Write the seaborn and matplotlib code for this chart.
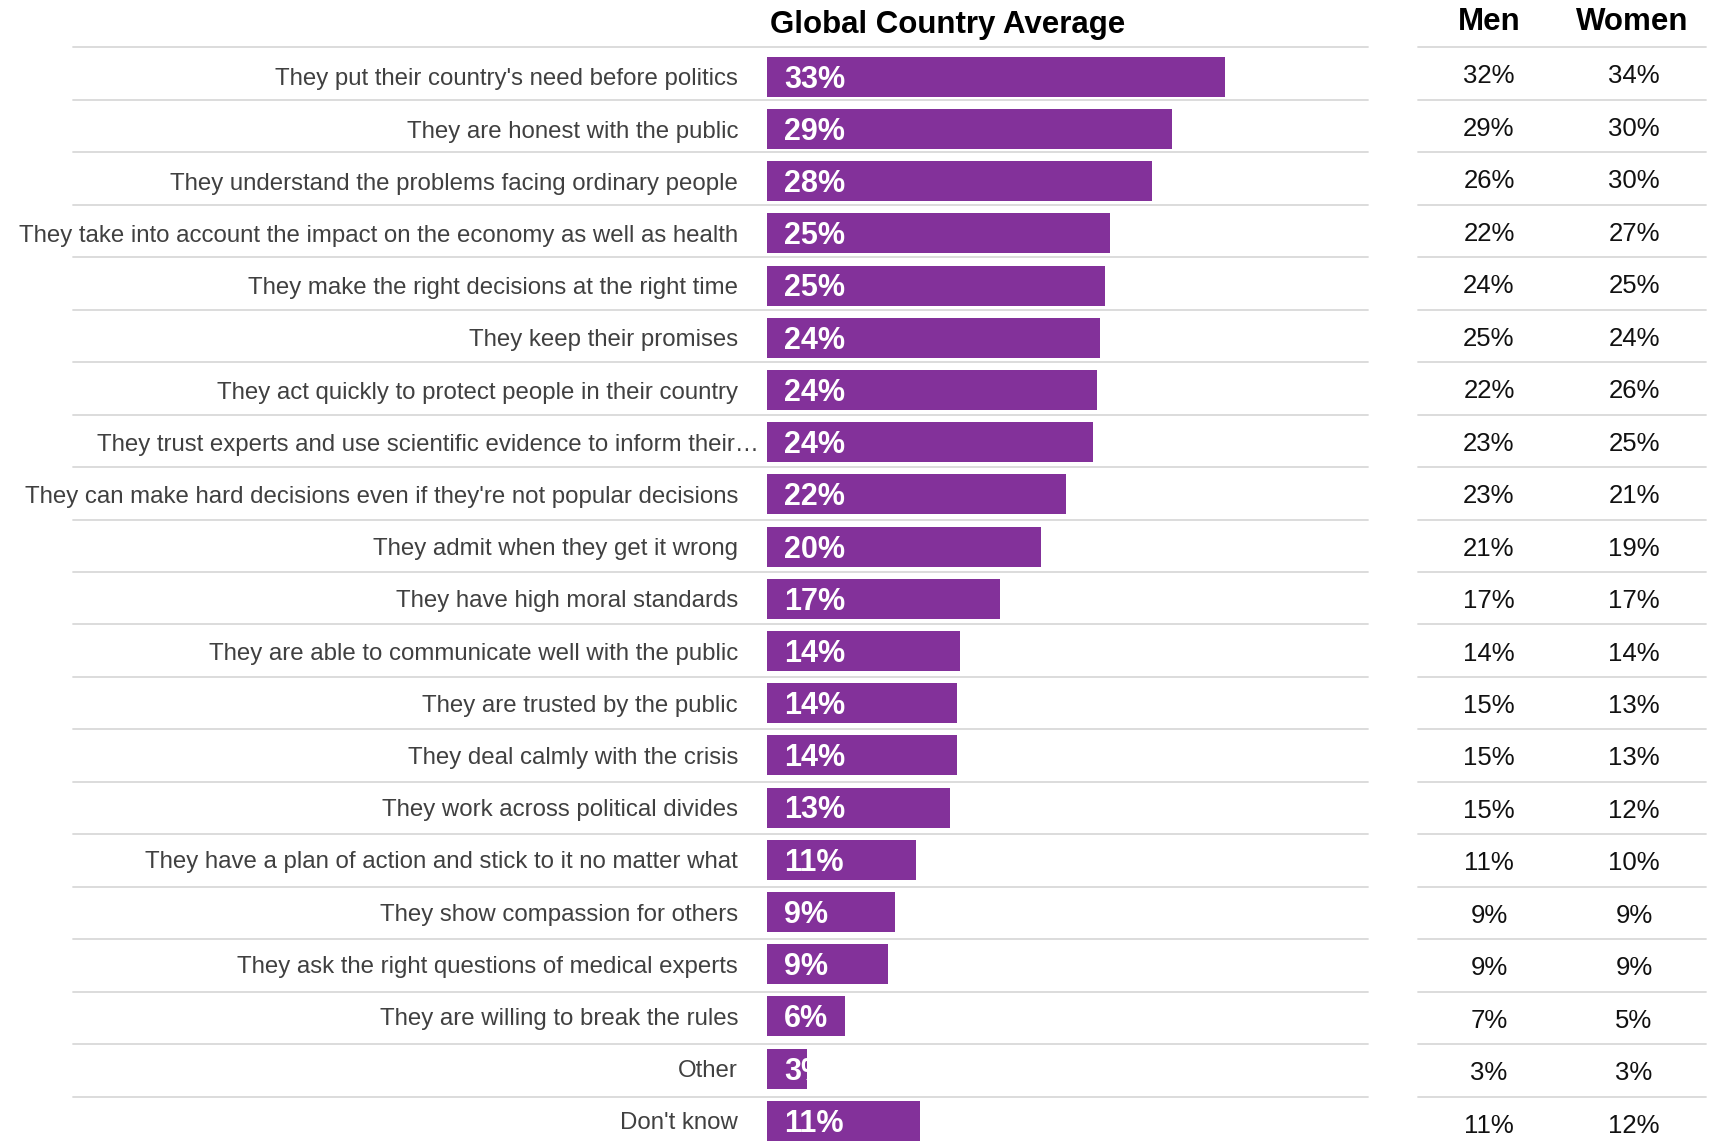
import matplotlib
matplotlib.use("Agg")
import matplotlib.pyplot as plt
import matplotlib.transforms as mtransforms
from matplotlib.lines import Line2D
from matplotlib import font_manager
import seaborn as sns
import pandas as pd

# ---------------- data ----------------
categories = [
    "They put their country's need before politics",
    "They are honest with the public",
    "They understand the problems facing ordinary people",
    "They take into account the impact on the economy as well as health",
    "They make the right decisions at the right time",
    "They keep their promises",
    "They act quickly to protect people in their country",
    "They trust experts and use scientific evidence to inform their\u2026",
    "They can make hard decisions even if they're not popular decisions",
    "They admit when they get it wrong",
    "They have high moral standards",
    "They are able to communicate well with the public",
    "They are trusted by the public",
    "They deal calmly with the crisis",
    "They work across political divides",
    "They have a plan of action and stick to it no matter what",
    "They show compassion for others",
    "They ask the right questions of medical experts",
    "They are willing to break the rules",
    "Other",
    "Don't know",
]
global_avg = [33.3, 29.4, 28.0, 24.9, 24.6, 24.2, 24.0, 23.7, 21.7, 19.9, 16.9,
              14.0, 13.8, 13.8, 13.3, 10.8, 9.3, 8.8, 5.7, 2.9, 11.1]
global_labels = [33, 29, 28, 25, 25, 24, 24, 24, 22, 20, 17, 14, 14, 14, 13, 11, 9, 9, 6, 3, 11]
men = [32, 29, 26, 22, 24, 25, 22, 23, 23, 21, 17, 14, 15, 15, 15, 11, 9, 9, 7, 3, 11]
women = [34, 30, 30, 27, 25, 24, 26, 25, 21, 19, 17, 14, 13, 13, 12, 10, 9, 9, 5, 3, 12]

title = "Global Country Average"
col_headers = ["Men", "Women"]

# ---------------- style ----------------
W, H, DPI = 1719, 1144, 100
PURPLE = "#83319A"
LINE_C = "#D9D9D9"
LABEL_C = "#404040"

sns.set_theme(style="white")
plt.rcParams["font.family"] = ["Liberation Sans", "DejaVu Sans"]

installed = {f.name for f in font_manager.fontManager.ttflist}
if "Liberation Sans Narrow" in installed:
    LABEL_FAMILY = ["Liberation Sans Narrow", "Liberation Sans", "DejaVu Sans"]
    LABEL_SIZE = 21.0
else:
    LABEL_FAMILY = ["Liberation Sans", "DejaVu Sans"]
    LABEL_SIZE = 17.3

fig = plt.figure(figsize=(W / DPI, H / DPI), dpi=DPI)
fig.patch.set_facecolor("white")

n = len(categories)
BAR_PITCH = 52.2       # px between bar centres
BAR0 = 76.7            # px from top to first bar centre
LINE_PITCH = 52.47     # px between separator lines
LINE0 = 47.3           # px of first separator line
AX_L, AX_R = 767, 1368
PX_PER_PCT = 13.76

ax_top = BAR0 - BAR_PITCH / 2
ax = fig.add_axes([AX_L / W, 1 - (ax_top + n * BAR_PITCH) / H,
                   (AX_R - AX_L) / W, n * BAR_PITCH / H])
df = pd.DataFrame({"category": categories, "value": global_avg})
sns.barplot(data=df, x="value", y="category", orient="h", color=PURPLE,
            saturation=1, width=40 / BAR_PITCH, linewidth=0, ax=ax)
ax.set_xlim(0, (AX_R - AX_L) / PX_PER_PCT)
ax.set_ylim(n - 0.5, -0.5)
ax.axis("off")

trans = mtransforms.blended_transform_factory(fig.transFigure, ax.transData)


def down(px):
    return mtransforms.ScaledTranslation(0, -px / DPI, fig.dpi_scale_trans)


# separator lines (figure pixel rows)
for k in range(n):
    yf = 1 - (LINE0 + k * LINE_PITCH) / H
    for x0, x1 in [(73, 1368), (1418, 1706)]:
        fig.add_artist(Line2D([x0 / W, x1 / W], [yf, yf], transform=fig.transFigure,
                              color=LINE_C, lw=1.3, zorder=1))

# category labels
for i, cat in enumerate(categories):
    xr = 759 if cat.endswith("\u2026") else 738
    ax.text(xr / W, i, cat, transform=trans + down(8.7), ha="right", va="baseline",
            fontsize=LABEL_SIZE, family=LABEL_FAMILY, color=LABEL_C, clip_on=False)

# value labels inside bars (clipped to the bar)
off = mtransforms.ScaledTranslation(17 / DPI, -11 / DPI, fig.dpi_scale_trans)
for patch, lab in zip(ax.patches, global_labels):
    yc = patch.get_y() + patch.get_height() / 2
    t = ax.text(0, yc, f"{lab}%", transform=ax.transData + off, ha="left",
                va="baseline", fontsize=22, fontweight="bold", color="white")
    t.set_clip_path(patch)

# men / women columns (aligned with the separator rows)
for i, (m, w) in enumerate(zip(men, women)):
    yb = 1 - (LINE0 + (i + 0.5) * LINE_PITCH + 9.8) / H
    fig.text(1489 / W, yb, f"{m}%", ha="center", va="baseline",
             fontsize=18.5, color="#111111")
    fig.text(1634 / W, yb, f"{w}%", ha="center", va="baseline",
             fontsize=18.5, color="#111111")

# headers
fig.text(770 / W, 1 - 33.5 / H, title, ha="left", va="baseline",
         fontsize=22.5, fontweight="bold", color="black")
fig.text(1489 / W, 1 - 30.5 / H, col_headers[0], ha="center", va="baseline",
         fontsize=22.5, fontweight="bold", color="black")
fig.text(1632 / W, 1 - 30.5 / H, col_headers[1], ha="center", va="baseline",
         fontsize=22.5, fontweight="bold", color="black")

fig.savefig("out.png", dpi=DPI, facecolor="white")
